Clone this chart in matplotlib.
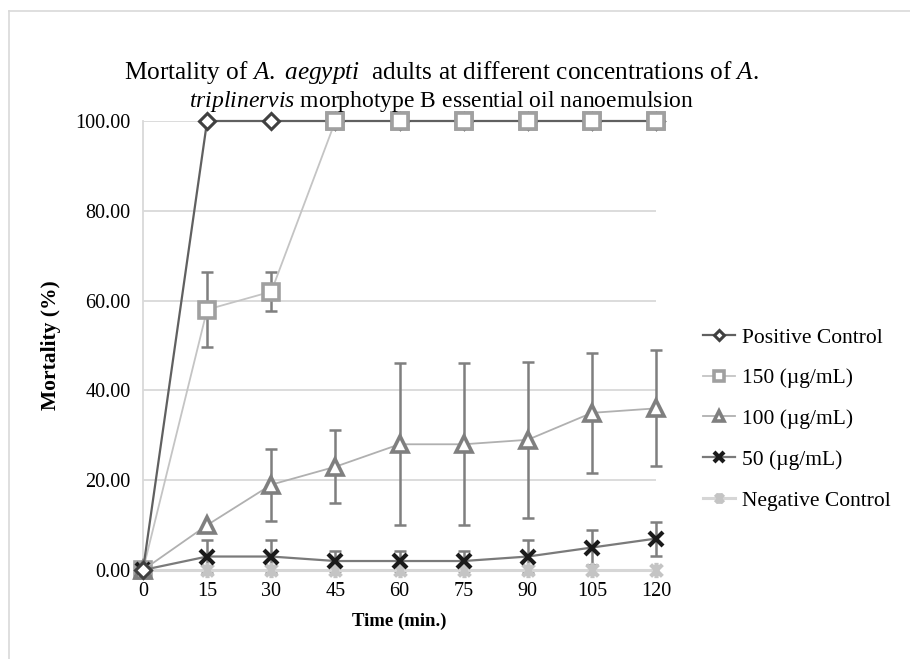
import matplotlib
matplotlib.use("Agg")
from matplotlib import pyplot as plt
from matplotlib.lines import Line2D
from matplotlib.path import Path

# values
time = [0, 15, 30, 45, 60, 75, 90, 105, 120]
positive = [0, 100, 100, 100, 100, 100, 100, 100, 100]
c150 = [0, 58, 62, 100, 100, 100, 100, 100, 100]
c150_err = [0, 8.4, 4.3, 0, 0, 0, 0, 0, 0]
c100 = [0, 10, 19, 23, 28, 28, 29, 35, 36]
c100_err = [0, 0, 8, 8.1, 18, 18, 17.4, 13.3, 12.9]
c50 = [0, 3, 3, 2, 2, 2, 3, 5, 7]
c50_err = [0, 3.7, 3.7, 2.2, 2.2, 2.2, 3.7, 3.8, 3.8]
negative = [0, 0, 0, 0, 0, 0, 0, 0, 0]
labels = ["Positive Control", "150 (\u00b5g/mL)", "100 (\u00b5g/mL)",
          "50 (\u00b5g/mL)", "Negative Control"]

plt.rcParams["font.family"] = ["Liberation Serif", "DejaVu Serif"]
plt.rcParams["mathtext.fontset"] = "custom"
plt.rcParams["mathtext.rm"] = "Liberation Serif"
plt.rcParams["mathtext.it"] = "Liberation Serif:italic"

# excel-like asterisk: an x with a vertical stroke
asterisk = Path([(-1, -1), (1, 1), (-1, 1), (1, -1), (0, -1.3), (0, 1.3)],
                [Path.MOVETO, Path.LINETO, Path.MOVETO, Path.LINETO, Path.MOVETO, Path.LINETO])


def err_only(x, y, e):
    # keep only points that actually carry an error bar
    pts = [(a, b, c) for a, b, c in zip(x, y, e) if c > 0]
    return [p[0] for p in pts], [p[1] for p in pts], [p[2] for p in pts]


fig = plt.figure(figsize=(9.10, 6.59), dpi=100)
ax = fig.add_axes([143 / 910, 1 - 570 / 659, 513 / 910, 449 / 659])

# outer chart frame (left and top edges visible)
fig.add_artist(Line2D([9 / 910, 9 / 910], [0, 1 - 11 / 659], color="#d9d9d9", lw=1.2))
fig.add_artist(Line2D([9 / 910, 1], [1 - 11 / 659, 1 - 11 / 659], color="#d9d9d9", lw=1.2))

ebkw = dict(fmt="none", ecolor="#7f7f7f", elinewidth=1.8, capsize=4, capthick=1.8, zorder=3)
for x, y, e in [err_only(time, c150, c150_err), err_only(time, c100, c100_err),
                err_only(time, c50, c50_err)]:
    eb = ax.errorbar(x, y, yerr=e, **ebkw)
    for part in eb.lines[1] + eb.lines[2]:
        part.set_clip_on(False)

h_neg, = ax.plot(time, negative, color="#d6d6d6", lw=2.2, marker=asterisk, ms=11,
                 mec="#c4c4c4", mew=3, label=labels[4], zorder=4, clip_on=False)
h50, = ax.plot(time, c50, color="#7a7a7a", lw=1.6, marker="x", ms=10,
               mec="#1a1a1a", mew=3, label=labels[3], zorder=5, clip_on=False)
h100, = ax.plot(time, c100, color="#b0b0b0", lw=1.3, marker="^", ms=11,
                mec="#7f7f7f", mfc="white", mew=2.6, label=labels[2], zorder=5, clip_on=False)
h150, = ax.plot(time, c150, color="#c4c4c4", lw=1.3, marker="s", ms=11,
                mec="#a0a0a0", mfc="white", mew=2.6, label=labels[1], zorder=4, clip_on=False)
hpos, = ax.plot(time, positive, color="#606060", lw=1.6, marker="D", ms=8,
                mec="#404040", mfc="white", mew=2.2, label=labels[0], zorder=5, clip_on=False)
# squares sit on top of the positive control line
ax.plot(time[3:], c150[3:], ls="none", marker="s", ms=11, mec="#a0a0a0",
        mfc="white", mew=2.6, zorder=6, clip_on=False)

ax.set_xlim(0, 120)
ax.set_ylim(0, 100)
ax.set_xticks(time)
ax.set_yticks([0, 20, 40, 60, 80, 100])
ax.set_yticklabels([f"{v:.2f}" for v in [0, 20, 40, 60, 80, 100]])
ax.tick_params(length=0, labelsize=14.5)
ax.tick_params(axis="x", pad=9)
ax.tick_params(axis="y", pad=9)
ax.grid(axis="y", color="#d9d9d9", lw=1.3)
ax.set_axisbelow(True)
for s in ["top", "right", "bottom"]:
    ax.spines[s].set_visible(False)
ax.spines["left"].set_color("#d9d9d9")
ax.spines["left"].set_linewidth(1.3)

ax.set_xlabel("Time (min.)", fontsize=13.5, fontweight="bold", labelpad=8)
ax.set_ylabel("Mortality (%)", fontsize=15.5, fontweight="bold", labelpad=10)

fig.text(441 / 910, 1 - 73 / 659,
         r"Mortality of $A.\ aegypti$  adults at different concentrations of $A.$",
         ha="center", va="center", fontsize=18.2)
fig.text(441 / 910, 1 - 102 / 659,
         r"$triplinervis$ morphotype B essential oil nanoemulsion",
         ha="center", va="center", fontsize=17)

fig.legend(handles=[hpos, h150, h100, h50, h_neg], loc="center left",
           bbox_to_anchor=(703 / 910, 1 - 419 / 659), frameon=False,
           fontsize=15.5, handlelength=1.5, handletextpad=0.3,
           labelspacing=0.96, borderpad=0, borderaxespad=0, markerscale=0.7)

fig.savefig("out.png", dpi=100)
